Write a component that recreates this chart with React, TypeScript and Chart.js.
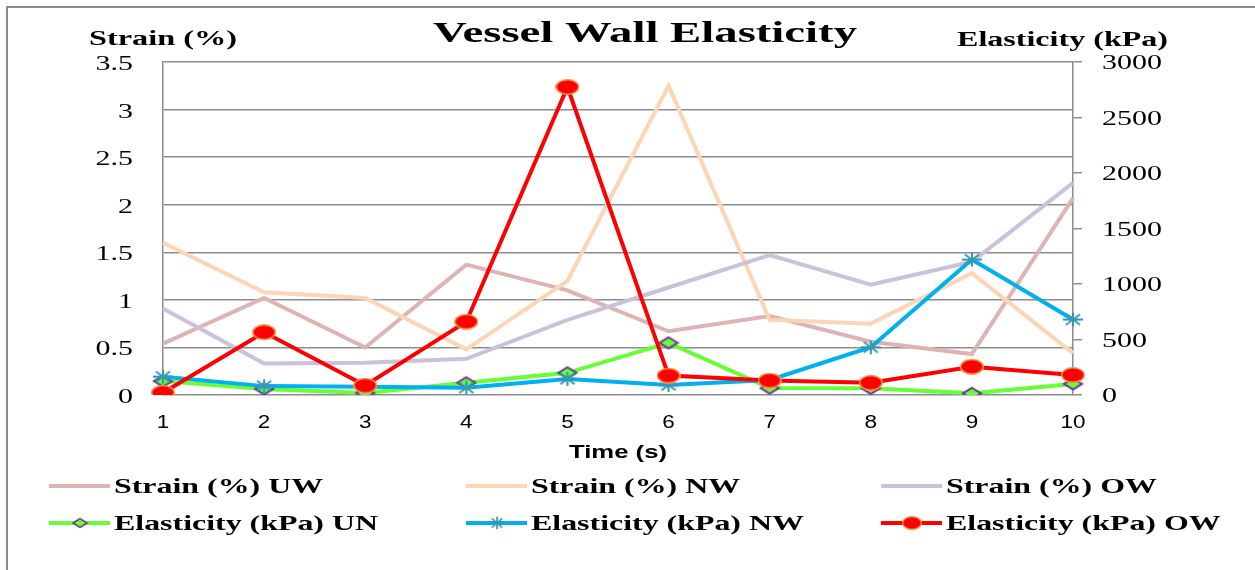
import React, { useEffect, useRef } from "react";
import { Chart, registerables } from "chart.js";

Chart.register(...registerables);

const timeLabels = ["1", "2", "3", "4", "5", "6", "7", "8", "9", "10"];
const strainTicks = [0, 0.5, 1, 1.5, 2, 2.5, 3, 3.5];
const elasticityTicks = [0, 500, 1000, 1500, 2000, 2500, 3000];

const strainUW = [0.54, 1.02, 0.5, 1.37, 1.1, 0.67, 0.83, 0.56, 0.43, 2.07];
const strainNW = [1.6, 1.08, 1.02, 0.48, 1.2, 3.25, 0.79, 0.75, 1.28, 0.44];
const strainOW = [0.91, 0.33, 0.34, 0.38, 0.79, 1.13, 1.47, 1.16, 1.4, 2.23];
const elasticityUN = [125, 55, 18, 110, 200, 470, 62, 60, 15, 100];
const elasticityNW = [165, 80, 75, 65, 145, 90, 135, 430, 1220, 680];
const elasticityOW = [20, 565, 85, 660, 2775, 175, 130, 110, 255, 180];

const SERIF = "'Liberation Serif', 'Times New Roman', serif";
const SANS = "'Liberation Sans', Arial, sans-serif";
const GRID = "#8c8c8c";

function makeCanvas(w: number, h: number) {
  const c = document.createElement("canvas");
  c.width = w;
  c.height = h;
  return c;
}

function makeEllipse(w: number, h: number, fill: string, stroke: string, lw: number) {
  const c = makeCanvas(w, h);
  const g = c.getContext("2d")!;
  g.beginPath();
  g.ellipse(w / 2, h / 2, w / 2 - lw / 2, h / 2 - lw / 2, 0, 0, Math.PI * 2);
  g.fillStyle = fill;
  g.fill();
  g.lineWidth = lw;
  g.strokeStyle = stroke;
  g.stroke();
  return c;
}

function makeDiamond(w: number, h: number, fill: string, stroke: string, lw: number) {
  const c = makeCanvas(w, h);
  const g = c.getContext("2d")!;
  const p = lw;
  g.beginPath();
  g.moveTo(w / 2, p);
  g.lineTo(w - p, h / 2);
  g.lineTo(w / 2, h - p);
  g.lineTo(p, h / 2);
  g.closePath();
  g.fillStyle = fill;
  g.fill();
  g.lineWidth = lw;
  g.strokeStyle = stroke;
  g.stroke();
  return c;
}

function makeStar(w: number, h: number, stroke: string, lw: number) {
  const c = makeCanvas(w, h);
  const g = c.getContext("2d")!;
  const p = lw;
  g.beginPath();
  g.moveTo(w / 2, p);
  g.lineTo(w / 2, h - p);
  g.moveTo(p, h / 2);
  g.lineTo(w - p, h / 2);
  g.moveTo(p + w * 0.12, p + h * 0.1);
  g.lineTo(w - p - w * 0.12, h - p - h * 0.1);
  g.moveTo(w - p - w * 0.12, p + h * 0.1);
  g.lineTo(p + w * 0.12, h - p - h * 0.1);
  g.lineWidth = lw;
  g.strokeStyle = stroke;
  g.stroke();
  return c;
}

function sText(
  ctx: CanvasRenderingContext2D,
  text: string,
  x: number,
  y: number,
  font: string,
  align: "left" | "center" | "right",
  sx: number
) {
  ctx.save();
  ctx.font = font;
  ctx.textBaseline = "alphabetic";
  ctx.textAlign = "left";
  const w = ctx.measureText(text).width * sx;
  const left = align === "left" ? x : align === "center" ? x - w / 2 : x - w;
  ctx.translate(left, y);
  ctx.scale(sx, 1);
  ctx.fillStyle = "#000";
  ctx.fillText(text, 0, 0);
  ctx.restore();
}

function fitText(
  ctx: CanvasRenderingContext2D,
  text: string,
  left: number,
  y: number,
  font: string,
  width: number
) {
  ctx.save();
  ctx.font = font;
  const m = ctx.measureText(text).width;
  ctx.restore();
  sText(ctx, text, left, y, font, "left", width / m);
}

export default function App() {
  const ref = useRef<HTMLCanvasElement | null>(null);

  useEffect(() => {
    if (!ref.current) return;
    const redDot = makeEllipse(24, 16, "#FF0000", "#F79646", 1.5);
    const greenDiamond = makeDiamond(22, 15, "#66FF33", "#7030A0", 2);
    const blueStar = makeStar(24, 18, "#3399B5", 2);

    const legendItems = [
      { label: "Strain (%) UW", color: "#DDB4B4", marker: null as HTMLCanvasElement | null, mw: 0, mh: 0 },
      { label: "Strain (%) NW", color: "#FCD5B5", marker: null, mw: 0, mh: 0 },
      { label: "Strain (%) OW", color: "#CCC1DA", marker: null, mw: 0, mh: 0 },
      { label: "Elasticity (kPa) UN", color: "#66FF33", marker: greenDiamond, mw: 17, mh: 12 },
      { label: "Elasticity (kPa) NW", color: "#00B0F0", marker: blueStar, mw: 18, mh: 16 },
      { label: "Elasticity (kPa) OW", color: "#FF0000", marker: redDot, mw: 20, mh: 14 },
    ];
    const legendCols = [49, 466, 881];
    const legendRows = [486, 523];

    const decor = {
      id: "decor",
      beforeDraw(chart: any) {
        const ctx = chart.ctx as CanvasRenderingContext2D;
        ctx.save();
        ctx.fillStyle = "#ffffff";
        ctx.fillRect(0, 0, chart.width, chart.height);
        ctx.restore();
      },
      afterDraw(chart: any) {
        const ctx = chart.ctx as CanvasRenderingContext2D;
        // outer frame
        ctx.save();
        ctx.strokeStyle = "#8a8a8a";
        ctx.lineWidth = 2;
        ctx.beginPath();
        ctx.moveTo(7, chart.height);
        ctx.lineTo(7, 7);
        ctx.lineTo(chart.width, 7);
        ctx.stroke();
        ctx.restore();

        fitText(ctx, "Vessel Wall Elasticity", 433, 42, `bold 30px ${SERIF}`, 424);
        fitText(ctx, "Strain (%)", 89, 45, `bold 21px ${SERIF}`, 148);
        fitText(ctx, "Elasticity (kPa)", 957, 46, `bold 21px ${SERIF}`, 211);

        const ys = chart.scales.y;
        strainTicks.forEach((v) => {
          sText(ctx, String(v), 133, ys.getPixelForValue(v) + 8, `20px ${SERIF}`, "right", 1.5);
        });
        const y2 = chart.scales.y2;
        elasticityTicks.forEach((v) => {
          sText(ctx, String(v), 1102, y2.getPixelForValue(v) + 7, `20px ${SERIF}`, "left", 1.5);
        });
        const xs = chart.scales.x;
        timeLabels.forEach((l, i) => {
          sText(ctx, l, xs.getPixelForValue(i), 428, `18px ${SANS}`, "center", 1.25);
        });
        fitText(ctx, "Time (s)", 569, 458, `bold 19px ${SANS}`, 98);

        legendItems.forEach((it, i) => {
          const col = legendCols[i % 3];
          const row = legendRows[Math.floor(i / 3)];
          ctx.save();
          ctx.strokeStyle = it.color;
          ctx.lineWidth = 4;
          ctx.beginPath();
          ctx.moveTo(col, row);
          ctx.lineTo(col + 61, row);
          ctx.stroke();
          if (it.marker) {
            ctx.drawImage(it.marker, col + 31 - it.mw / 2, row - it.mh / 2, it.mw, it.mh);
          }
          ctx.restore();
          sText(ctx, it.label, col + 65, row + 7, `bold 22px ${SERIF}`, "left", 1.45);
        });
      },
    };

    const chart = new Chart(ref.current, {
      type: "line",
      data: {
        labels: timeLabels,
        datasets: [
          { label: "Strain (%) UW", data: strainUW, yAxisID: "y", borderColor: "#DDB4B4", borderWidth: 4, pointRadius: 0, order: 6 },
          { label: "Strain (%) NW", data: strainNW, yAxisID: "y", borderColor: "#FCD5B5", borderWidth: 4, pointRadius: 0, order: 5 },
          { label: "Strain (%) OW", data: strainOW, yAxisID: "y", borderColor: "#CCC1DA", borderWidth: 4, pointRadius: 0, order: 4 },
          { label: "Elasticity (kPa) UN", data: elasticityUN, yAxisID: "y2", borderColor: "#66FF33", borderWidth: 4, pointStyle: greenDiamond as any, pointRadius: 8, order: 3 },
          { label: "Elasticity (kPa) NW", data: elasticityNW, yAxisID: "y2", borderColor: "#00B0F0", borderWidth: 4, pointStyle: blueStar as any, pointRadius: 8, order: 2 },
          { label: "Elasticity (kPa) OW", data: elasticityOW, yAxisID: "y2", borderColor: "#FF0000", borderWidth: 4, pointStyle: redDot as any, pointRadius: 8, order: 1 },
        ] as any,
      },
      options: {
        responsive: false,
        animation: false,
        layout: { padding: { top: 62, left: 0, right: 0, bottom: 0 } },
        elements: { line: { tension: 0 } },
        plugins: { legend: { display: false }, title: { display: false }, tooltip: { enabled: false } },
        scales: {
          x: {
            type: "category",
            offset: false,
            grid: { display: false },
            border: { display: false },
            ticks: { display: false },
            afterFit: (s: any) => {
              s.height = 175;
            },
          },
          y: {
            position: "left",
            min: 0,
            max: 3.5,
            ticks: { display: false, stepSize: 0.5 },
            grid: { color: GRID, lineWidth: 1.5, drawTicks: false },
            border: { display: true, color: GRID, width: 1.5 },
            afterFit: (s: any) => {
              s.width = 163;
            },
          },
          y2: {
            position: "right",
            min: 0,
            max: 3000,
            ticks: { display: false, stepSize: 500 },
            grid: { drawOnChartArea: false, drawTicks: true, tickLength: 9, color: GRID, lineWidth: 1.5 },
            border: { display: true, color: GRID, width: 1.5 },
            afterFit: (s: any) => {
              s.width = 182;
            },
          },
        },
      } as any,
      plugins: [decor],
    });
    return () => chart.destroy();
  }, []);

  return (
    <div style={{ position: "absolute", left: 0, top: 0, width: 1255, height: 570 }}>
      <canvas ref={ref} width={1255} height={570} style={{ display: "block" }} />
    </div>
  );
}
